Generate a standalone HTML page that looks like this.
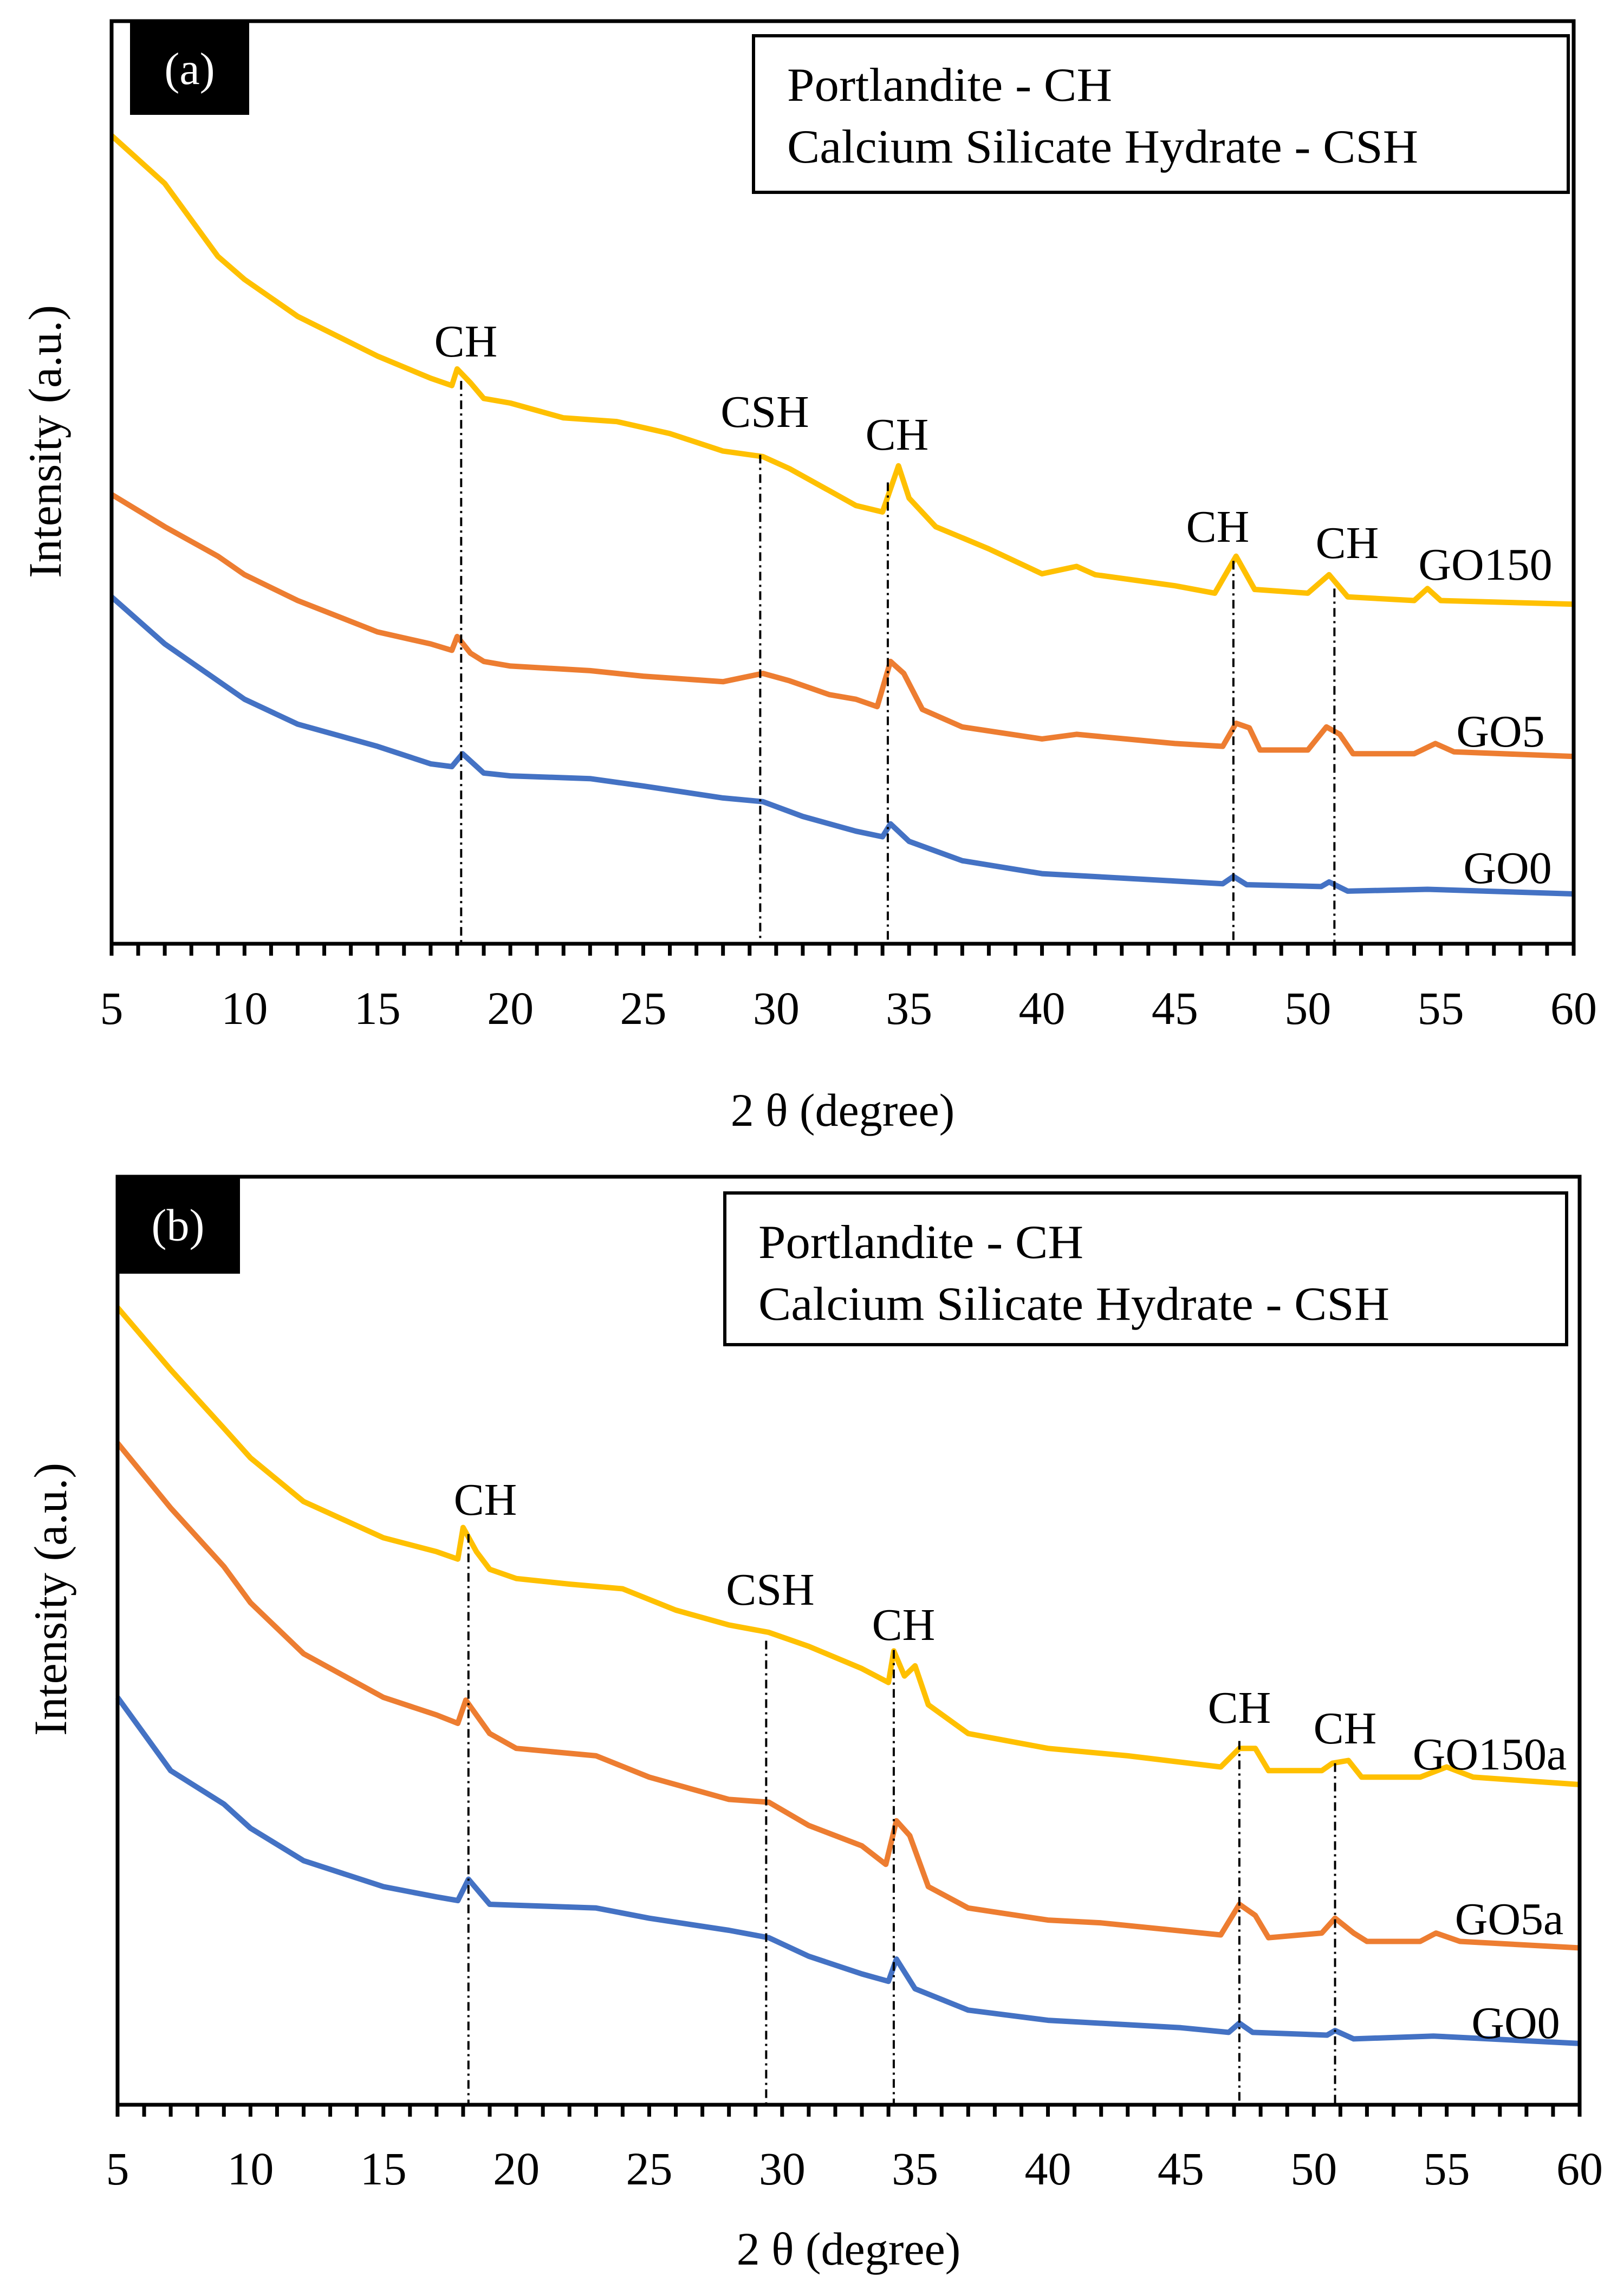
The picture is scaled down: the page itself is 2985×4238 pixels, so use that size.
<!DOCTYPE html>
<html><head><meta charset="utf-8"><style>
html,body{margin:0;padding:0;background:#fff;}
svg{display:block;font-family:"Liberation Serif",serif;}
</style></head><body>
<svg id="chart" width="2985" height="4238" viewBox="0 0 2985 4238" xmlns="http://www.w3.org/2000/svg"></svg>
<script>
// ---- data (x in degrees 2θ, intensity in a.u. scaled 0-100 of plot height) ----
const aGO150X=[5,7,9,10,12,15,17,17.8,18,18.5,19,20,22,24,26,28,29.5,30.5,32,33,34,34.6,35,36,38,40,41.3,42,45,46.5,47.3,48,50,50.8,51.5,54,54.5,55,60];
const aGO150Y=[87.6,82.4,74.5,72,68,63.7,61.3,60.5,62.3,60.8,59.1,58.6,57,56.6,55.3,53.4,52.8,51.5,49.1,47.5,46.8,51.8,48.3,45.2,42.8,40.1,40.9,40,38.8,38,42,38.4,38,40,37.6,37.2,38.5,37.2,36.8];
const aGO5X=[5,7,9,10,12,15,17,17.8,18,18.5,19,20,23,25,28,29.5,30.5,32,33,33.8,34.3,34.8,35.5,37,40,41.3,45,46.8,47.3,47.8,48.2,50,50.7,51.2,51.7,54,54.8,55.5,60];
const aGO5Y=[48.7,45.2,42,40,37.2,33.8,32.5,31.8,33.3,31.5,30.6,30.1,29.6,29,28.4,29.3,28.5,27,26.5,25.7,30.6,29.3,25.4,23.5,22.2,22.7,21.7,21.4,23.9,23.4,21,21,23.5,22.7,20.6,20.6,21.7,20.8,20.3];
const aGO0X=[5,7,9,10,12,15,17,17.8,18.2,19,20,23,25,28,29.5,31,33,34,34.3,35,37,40,45,46.8,47.2,47.7,50.5,50.8,51.5,54.5,60];
const aGO0Y=[37.6,32.5,28.5,26.5,23.8,21.4,19.5,19.2,20.6,18.5,18.2,17.9,17.1,15.8,15.4,13.8,12.2,11.6,13,11.1,9,7.6,6.8,6.5,7.3,6.4,6.2,6.7,5.7,5.9,5.4];
const bGO150X=[5,7,9,10,12,15,17,17.8,18,18.5,19,20,22,24,26,28,29.5,31,33,34,34.2,34.6,35,35.5,37,40,43,46.5,47.2,47.8,48.3,50.3,50.7,51.3,51.8,54,55,56,60];
const bGO150Y=[85.9,79.2,72.9,69.7,65,61.1,59.6,58.8,62.2,59.6,57.7,56.7,56.1,55.6,53.3,51.7,50.9,49.4,47,45.5,48.9,46.2,47.3,43.1,40,38.4,37.6,36.4,38.4,38.4,36,36,36.8,37.1,35.3,35.3,36.4,35.3,34.5];
const bGO5X=[5,7,9,10,12,15,17,17.8,18.1,19,20,23,25,28,29.5,31,33,33.9,34.3,34.8,35.5,37,40,42,46.5,47.2,47.8,48.3,50.3,50.8,51.5,52,54,54.6,55.5,60];
const bGO5Y=[71.3,64.3,58,54.1,48.6,43.9,42,41.1,43.6,40,38.4,37.6,35.3,32.9,32.6,30.1,27.9,25.9,30.6,29,23.5,21.2,19.9,19.6,18.3,21.6,20.4,18,18.5,20.1,18.5,17.6,17.6,18.5,17.6,16.9];
const bGO0X=[5,7,9,10,12,15,17,17.8,18.2,19,20,23,25,28,29.5,31,33,34,34.3,35,37,40,45,46.8,47.2,47.7,50.5,50.8,51.5,54.5,60];
const bGO0Y=[43.9,36,32.4,29.8,26.3,23.5,22.4,22,24.3,21.6,21.5,21.2,20.1,18.8,18,16,14.1,13.3,15.7,12.5,10.2,9.1,8.3,7.8,8.8,7.8,7.5,8,7.1,7.4,6.6];
const tickLabels=[5,10,15,20,25,30,35,40,45,50,55,60];
const aPeakX=[18.15,29.4,34.2,47.2,51.0];
const aPeakTop=[61,53,50,41.5,38.5];
const bPeakX=[18.2,29.4,34.2,47.2,50.8];
const bPeakTop=[61.5,50,49,39.2,36.8];

const NS="http://www.w3.org/2000/svg";
const svg=document.getElementById('chart');
function mk(tag,attrs,parent){const e=document.createElementNS(NS,tag);for(const k in attrs)e.setAttribute(k,attrs[k]);(parent||svg).appendChild(e);return e;}

function panel(cfg){
  const g=mk('g',{});
  
  
  const L=cfg.L,R=cfg.R,T=cfg.T,B=cfg.B;
  const sx=v=>L+(v-5)/55*(R-L);
  const sy=v=>B-v/100*(B-T);
  cfg.series.forEach(s=>{
    const pts=s.x.map((v,i)=>sx(v).toFixed(1)+','+sy(s.y[i]).toFixed(1)).join(' ');
    const p=mk('polyline',{points:pts,fill:'none',stroke:s.color,'stroke-width':10,'stroke-linejoin':'round'},g);
    
    
  });
  cfg.peakX.forEach((v,i)=>{
    const l=mk('line',{x1:sx(v),x2:sx(v),y1:sy(cfg.peakTop[i]),y2:B,stroke:'#000','stroke-width':4,'stroke-dasharray':'16,8,4,8'},g);
    
    
  });
  const fr=mk('rect',{x:L,y:T,width:R-L,height:B-T,fill:'none',stroke:'#000','stroke-width':7},g);
  
  
  for(let d=5;d<=60;d++){
    const t=mk('line',{x1:sx(d),x2:sx(d),y1:B,y2:B+22,stroke:'#000','stroke-width':7},g);
    
    
  }
  tickLabels.forEach(v=>{
    const t=mk('text',{x:sx(v),y:cfg.tickY,'font-size':86,'text-anchor':'middle'},g);
    t.textContent=v;
    
    
  });
  const xt=mk('text',{x:(L+R)/2,y:cfg.xTitleY,'font-size':86,'text-anchor':'middle'},g);
  xt.textContent='2 θ (degree)';
  
  
  const yt=mk('text',{x:0,y:0,'font-size':86,'text-anchor':'middle',transform:`translate(${cfg.yTitleX},${cfg.yTitleY}) rotate(-90)`},g);
  yt.textContent='Intensity (a.u.)';
  
  
  const tb=mk('rect',{x:cfg.tag[0],y:cfg.tag[1],width:cfg.tag[2],height:cfg.tag[3],fill:'#000'},g);
  
  
  const tt=mk('text',{x:cfg.tag[0]+cfg.tag[2]/2,y:cfg.tag[1]+cfg.tag[3]/2+28,'font-size':84,'text-anchor':'middle',fill:'#fff'},g);
  tt.textContent=cfg.tagText;
  
  
  const lg=cfg.legend;
  const lb=mk('rect',{x:lg[0],y:lg[1],width:lg[2],height:lg[3],fill:'#fff',stroke:'#000','stroke-width':6},g);
  
  
  const l1=mk('text',{x:lg[0]+62,y:lg[1]+120,'font-size':88,textLength:600,lengthAdjust:'spacingAndGlyphs'},g);
  l1.textContent='Portlandite - CH';
  
  
  const l2=mk('text',{x:lg[0]+62,y:lg[1]+234,'font-size':88,textLength:1165,lengthAdjust:'spacingAndGlyphs'},g);
  l2.textContent='Calcium Silicate Hydrate - CSH';
  
  
  cfg.labels.forEach(a=>{
    const t=mk('text',{x:a[1],y:a[2],'font-size':84,'text-anchor':'middle'},g);
    t.textContent=a[0];
    
    
  });
}

panel({name:'panel-a',L:206,R:2905,T:39,B:1742,tickY:1890,xTitleY:2078,yTitleX:112,yTitleY:815,
  tag:[240,42,220,170],tagText:'(a)',legend:[1391,66,1504,289],
  series:[{id:'go150',x:aGO150X,y:aGO150Y,color:'#FFC000'},{id:'go5',x:aGO5X,y:aGO5Y,color:'#ED7D31'},{id:'go0',x:aGO0X,y:aGO0Y,color:'#4472C4'}],
  peakX:aPeakX,peakTop:aPeakTop,
  labels:[['CH',860,658,'peak-label-ch'],['CSH',1412,788,'peak-label-csh'],['CH',1656,830,'peak-label-ch'],['CH',2248,1000,'peak-label-ch'],['CH',2487,1030,'peak-label-ch'],['GO150',2742,1070,'series-label-go150'],['GO5',2770,1378,'series-label-go5'],['GO0',2783,1630,'series-label-go0']]});

panel({name:'panel-b',L:217,R:2916,T:2172,B:3885,tickY:4032,xTitleY:4180,yTitleX:122,yTitleY:2952,
  tag:[214,2172,229,179],tagText:'(b)',legend:[1338,2202,1554,280],
  series:[{id:'go150a',x:bGO150X,y:bGO150Y,color:'#FFC000'},{id:'go5a',x:bGO5X,y:bGO5Y,color:'#ED7D31'},{id:'go0',x:bGO0X,y:bGO0Y,color:'#4472C4'}],
  peakX:bPeakX,peakTop:bPeakTop,
  labels:[['CH',896,2796,'peak-label-ch'],['CSH',1422,2962,'peak-label-csh'],['CH',1668,3027,'peak-label-ch'],['CH',2288,3180,'peak-label-ch'],['CH',2483,3218,'peak-label-ch'],['GO150a',2750,3266,'series-label-go150a'],['GO5a',2786,3570,'series-label-go5a'],['GO0',2798,3762,'series-label-go0']]});
</script>
</body></html>
